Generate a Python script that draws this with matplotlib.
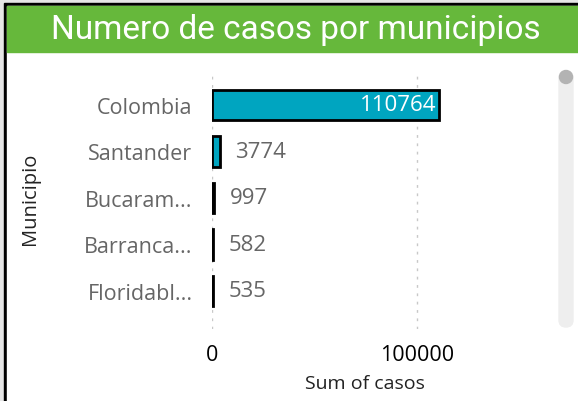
import matplotlib.pyplot as plt
from matplotlib.patches import Rectangle, FancyBboxPatch, Circle

municipios = ["Colombia", "Santander", "Bucaram...", "Barranca...", "Floridabl..."]
casos = [110764, 3774, 997, 582, 535]
xticks = [0, 100000]

W, H = 578, 402
fig = plt.figure(figsize=(W / 100, H / 100), dpi=100)
fig.patch.set_facecolor("white")

def px(x, y, w, h):
    # pixel box (top-left origin) -> figure fraction
    return [x / W, 1 - (y + h) / H, w / W, h / H]

bg = fig.add_axes([0, 0, 1, 1], zorder=-5)
bg.set_xlim(0, W)
bg.set_ylim(H, 0)
bg.axis("off")
bg.add_patch(Rectangle((0, 0), W, H, color="#e6e6e6"))
bg.add_patch(Rectangle((4, 4), W, H, color="black"))
bg.add_patch(Rectangle((7, 7), W, H, color="white"))
bg.add_patch(Rectangle((7, 7), W, 46, color="#66b83b"))
bg.text(296, 30, "Numero de casos por municipios", color="white", fontsize=24,
        family="Roboto", ha="center", va="center")
# scrollbar
bg.add_patch(FancyBboxPatch((559, 72), 14, 256, boxstyle="round,pad=0,rounding_size=7",
                            color="#eeeeee"))
bg.add_patch(Circle((566, 78), 6.5, color="#b3b3b3"))

ax = fig.add_axes(px(212, 75, 318, 255))
y = list(range(len(municipios)))
ax.barh(y, casos, height=0.66, color="#00a5c0", edgecolor="black", linewidth=2)
ax.set_ylim(4.82, -0.667)
ax.set_xlim(0, 155000)
for i, v in enumerate(casos):
    if i == 0:
        ax.text(v - 1500, i, str(v), color="white", fontsize=16, family="Open Sans",
                ha="right", va="center")
    else:
        ax.text(v + 7500, i, str(v), color="#666666", fontsize=16, family="Open Sans",
                ha="left", va="center")
ax.set_yticks(y)
ax.set_yticklabels(municipios, fontsize=15.5, family="Open Sans", color="#666666")
ax.set_xticks(xticks)
ax.set_xticklabels([str(t) for t in xticks], fontsize=15.5, family="Open Sans", color="black")
ax.tick_params(length=0, axis="y", pad=14)
ax.tick_params(length=0, axis="x", pad=11)
for s in ax.spines.values():
    s.set_visible(False)
ax.grid(axis="x", color="#c8c8c8", linestyle=(0, (2, 4)), linewidth=1)
ax.set_axisbelow(True)

fig.text(365 / W, 1 - 384 / H, "Sum of casos", fontsize=14, family="Open Sans",
         ha="center", va="center", color="#222222")
fig.text(30 / W, 1 - 199 / H, "Municipio", fontsize=14.5, family="Open Sans",
         rotation=90, ha="center", va="center", color="#222222")

fig.savefig("out.png", dpi=100)
